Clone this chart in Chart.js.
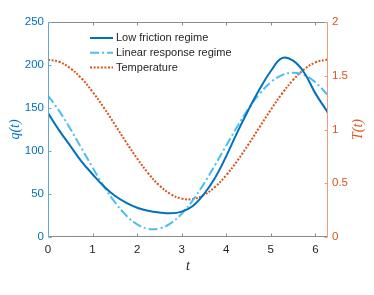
<!DOCTYPE html>
<html>
<head>
<meta charset="utf-8">
<script src="https://cdn.jsdelivr.net/npm/chart.js@4"></script>
<style>
  body { margin: 0; background: #fff; }
</style>
</head>
<body>
<canvas id="qtChart" width="374" height="295"></canvas>
<script>
// values
const tValues = [0, 0.25, 0.5, 0.75, 1, 1.25, 1.5, 1.75, 2, 2.25, 2.5, 2.75, 3, 3.25,
  3.5, 3.75, 4, 4.25, 4.5, 4.75, 5, 5.25, 5.5, 5.75, 6, 6.25, 6.283];
const lowFriction = [144, 124, 106, 88, 73, 59, 48, 40, 34, 30.5, 28.5, 27.5, 29.5, 36,
  50, 69, 94, 122, 148, 172, 193, 208, 205, 191, 167, 147, 144];
const linearResponse = [164.5, 146.6, 125.8, 103.4, 80.8, 59.4, 40.5, 25.3, 14.8, 9.5,
  9.9, 15.9, 27.1, 42.8, 62.1, 83.8, 106.4, 128.7, 149.2, 166.6, 179.9, 188.2, 191,
  188.2, 179.9, 166.6, 164.5];
const temperature = [1.65, 1.63, 1.57, 1.476, 1.351, 1.205, 1.046, 0.884, 0.73, 0.592,
  0.479, 0.399, 0.357, 0.354, 0.391, 0.467, 0.575, 0.71, 0.863, 1.024, 1.184, 1.333,
  1.461, 1.56, 1.624, 1.65, 1.65];
const seriesNames = ["Low friction regime", "Linear response regime", "Temperature"];
const xTicks = [0, 1, 2, 3, 4, 5, 6];

const BLUE = "#0072BD";
const LIGHTBLUE = "#4DBEEE";
const ORANGE = "#D95319";
const TEXT = "#262626";

function pts(ys) {
  return tValues.map((t, i) => ({ x: t, y: ys[i] }));
}

const framePlugin = {
  id: "frame",
  afterDatasetsDraw(chart) {
    const { ctx, chartArea: a, scales } = chart;
    const L = Math.round(a.left) + 0.5, R = Math.round(a.right) - 0.5;
    const T = Math.round(a.top) + 0.5, B = Math.round(a.bottom) - 0.5;
    ctx.save();
    ctx.lineWidth = 1;
    // box
    ctx.strokeStyle = "#8a8a8a";
    ctx.beginPath();
    ctx.moveTo(L, B); ctx.lineTo(R, B);
    ctx.moveTo(L, T); ctx.lineTo(R, T);
    scales.x.ticks.forEach(tk => {
      const px = Math.round(scales.x.getPixelForValue(tk.value)) + 0.5;
      ctx.moveTo(px, B); ctx.lineTo(px, B - 3);
      ctx.moveTo(px, T); ctx.lineTo(px, T + 3);
    });
    ctx.stroke();
    ctx.strokeStyle = "#5fa9dc";
    ctx.beginPath();
    ctx.moveTo(L, T); ctx.lineTo(L, B);
    scales.y.ticks.forEach(tk => {
      const py = Math.round(scales.y.getPixelForValue(tk.value)) + 0.5;
      ctx.moveTo(L, py); ctx.lineTo(L + 3, py);
    });
    ctx.stroke();
    ctx.strokeStyle = "#eb9d7c";
    ctx.beginPath();
    ctx.moveTo(R, T); ctx.lineTo(R, B);
    scales.y1.ticks.forEach(tk => {
      const py = Math.round(scales.y1.getPixelForValue(tk.value)) + 0.5;
      ctx.moveTo(R, py); ctx.lineTo(R - 3, py);
    });
    ctx.stroke();
    ctx.restore();
  },
  afterDraw(chart) {
    const { ctx, chartArea: a } = chart;
    ctx.save();
    // legend inside the axes
    ctx.font = "11px 'Liberation Sans', Arial, sans-serif";
    ctx.textBaseline = "middle";
    chart.data.datasets.forEach((ds, i) => {
      const y = a.top + 16 + i * 14.8;
      ctx.strokeStyle = ds.borderColor;
      ctx.lineWidth = ds.borderWidth;
      ctx.setLineDash(ds.borderDash || []);
      ctx.beginPath();
      ctx.moveTo(a.left + 42, y);
      ctx.lineTo(a.left + 65, y);
      ctx.stroke();
      ctx.setLineDash([]);
      ctx.fillStyle = TEXT;
      ctx.fillText(ds.label, a.left + 68, y);
    });
    // axis titles
    ctx.font = "italic 14px 'Liberation Serif', 'Times New Roman', serif";
    ctx.textAlign = "center";
    ctx.fillStyle = TEXT;
    ctx.fillText("t", (a.left + a.right) / 2, a.bottom + 29);
    const midY = (a.top + a.bottom) / 2;
    ctx.save();
    ctx.translate(15, midY);
    ctx.rotate(-Math.PI / 2);
    ctx.fillStyle = BLUE;
    ctx.fillText("q(t)", 0, 0);
    ctx.restore();
    ctx.save();
    ctx.translate(358, midY);
    ctx.rotate(-Math.PI / 2);
    ctx.fillStyle = ORANGE;
    ctx.fillText("T(t)", 0, 0);
    ctx.restore();
    ctx.restore();
  }
};

const ctx = document.getElementById("qtChart").getContext("2d");

const qtChart = new Chart(ctx, {
  type: "line",
  data: {
    datasets: [
      {
        label: seriesNames[0],
        data: pts(lowFriction),
        borderColor: BLUE,
        borderWidth: 2,
        yAxisID: "y"
      },
      {
        label: seriesNames[1],
        data: pts(linearResponse),
        borderColor: LIGHTBLUE,
        borderWidth: 2,
        borderDash: [9, 3, 2, 3],
        yAxisID: "y"
      },
      {
        label: seriesNames[2],
        data: pts(temperature),
        borderColor: ORANGE,
        borderWidth: 2,
        borderDash: [2, 1.6],
        yAxisID: "y1"
      }
    ]
  },
  options: {
    responsive: false,
    animation: false,
    devicePixelRatio: 1,
    layout: { padding: { top: 22, left: 0, right: 0, bottom: 0 } },
    elements: {
      point: { radius: 0 },
      line: { tension: 0.4, fill: false, borderCapStyle: "butt" }
    },
    plugins: { legend: { display: false }, tooltip: { enabled: false } },
    scales: {
      x: {
        type: "linear",
        min: 0,
        max: 6.2832,
        grid: { display: false, drawTicks: false },
        border: { display: false },
        afterBuildTicks: s => { s.ticks = xTicks.map(v => ({ value: v })); },
        afterFit: s => { s.height = 58; },
        ticks: {
          padding: 6,
          color: TEXT,
          callback: v => String(v),
          font: { family: "'Liberation Sans', Arial, sans-serif", size: 11.5 }
        }
      },
      y: {
        position: "left",
        min: 0,
        max: 250,
        grid: { display: false, drawTicks: false },
        border: { display: false },
        afterFit: s => { s.width = 48; },
        ticks: {
          stepSize: 50,
          padding: 4,
          color: BLUE,
          font: { family: "'Liberation Sans', Arial, sans-serif", size: 11.5 }
        }
      },
      y1: {
        position: "right",
        min: 0,
        max: 2,
        grid: { display: false, drawTicks: false },
        border: { display: false },
        afterFit: s => { s.width = 46; },
        ticks: {
          stepSize: 0.5,
          padding: 4,
          color: ORANGE,
          callback: v => String(v),
          font: { family: "'Liberation Sans', Arial, sans-serif", size: 11.5 }
        }
      }
    }
  },
  plugins: [framePlugin]
});
</script>
</body>
</html>
